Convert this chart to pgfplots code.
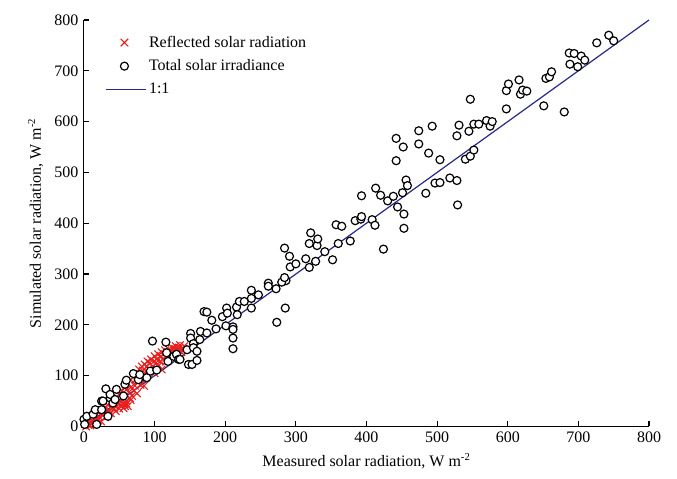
\documentclass[border=0pt]{standalone}
\usepackage{fontspec}
\setmainfont{Liberation Serif}
\usepackage{pgfplots}
\pgfplotsset{compat=1.18}
\definecolor{lineblue}{RGB}{40,40,140}
\definecolor{crossred}{RGB}{230,30,30}
\pgfplotsset{
  marklegend/.style={legend image code/.code={\draw[mark repeat=2,mark phase=2,##1] plot coordinates {(0pt,0pt)(14pt,0pt)(28pt,0pt)};}},
  linelegend/.style={legend image code/.code={\draw[##1] (0pt,0pt) -- (30pt,0pt);}},
}
\begin{document}
\fontsize{12}{14}\selectfont
\begin{tikzpicture}
\begin{axis}[
  scale only axis, width=424pt, height=305pt,
  xmin=0, xmax=800, ymin=0, ymax=800,
  axis x line*=bottom, axis y line*=left,
  tick align=inside, major tick length=4pt,
  xtick={0,100,...,800}, ytick={0,100,...,800},
  /pgf/number format/assume math mode=true,
  tick label style={font=\fontsize{12}{14}\selectfont},
  label style={font=\fontsize{12}{14}\selectfont},
  xlabel={Measured solar radiation, W m\textsuperscript{-2}},
  ylabel={Simulated solar radiation, W m\textsuperscript{-2}},
  axis line style={line width=0.8pt},
  every tick/.style={line width=0.8pt, black},
  clip=false,
  legend style={draw=none, fill=none, at={(0.03,0.975)}, anchor=north west,
    font=\fontsize{12}{14}\selectfont, row sep=3.5pt},
  legend cell align=left,
]
\addplot[only marks, mark=x, mark size=4pt, color=crossred, line width=0.8pt, marklegend] coordinates {
(2,5)(4,12)(6,3)(8,15)(10,8)(12,20)(14,10)(5,20)(16,25)(18,14)(20,28)(22,18)
(25,32)(27,22)(30,38)(32,28)(34,42)(36,30)(38,48)(40,36)(42,52)(44,40)(46,58)
(48,45)(50,62)(52,42)(54,70)(56,55)(58,78)(60,50)(62,85)(64,68)(66,92)(68,60)
(70,98)(72,80)(74,105)(76,88)(78,112)(80,95)(82,118)(84,100)(86,122)(88,108)
(90,128)(92,112)(95,132)(98,118)(100,138)(102,125)(105,142)(108,128)(110,146)
(112,132)(115,150)(118,138)(120,152)(122,140)(125,155)(128,145)(130,158)
(133,150)(136,160)(140,152)(62,40)(56,36)(75,65)(85,80)(45,30)(30,18)(100,105)(110,112)
(3,0)(9,2)(15,5)(20,12)(24,10)(28,30)(33,20)(38,26)(43,35)(48,56)(53,48)(57,44)
(60,72)(65,56)(67,78)(71,70)(73,92)(77,100)(80,82)(83,110)(87,95)(89,118)(93,125)
(96,110)(99,128)(103,132)(106,120)(109,138)(113,142)(116,128)(119,146)(123,148)
(126,136)(129,152)(132,142)(135,155)(138,146)(142,158)(60,45)(66,52)(58,40)(50,35)
};
\addlegendentry{Reflected solar radiation}
\addplot[only marks, mark=*, mark size=3pt, mark options={fill=white, draw=black, line width=0.9pt}, marklegend] coordinates {
(0,14)(1,4)(4,20)(13,24)(16,33)(18,4)(25,33)(25,50)(27,50)(31,74)(34,20)(37,56)
(37,63)(41,46)(44,53)(46,73)(56,60)(58,83)(60,91)(70,104)(77,92)(79,102)(89,96)
(94,109)(97,168)(103,111)(116,166)(117,145)(119,128)(127,138)(131,142)(134,132)
(136,132)(146,151)(148,122)(151,183)(151,174)(153,122)(155,163)(155,155)(160,130)
(160,148)(164,171)(165,187)(170,226)(174,225)(174,184)(181,209)(187,192)(196,216)
(201,198)(202,233)(203,223)(211,196)(211,191)(211,174)(211,153)(216,235)(217,220)
(220,246)(227,246)(237,268)(237,233)(237,252)(247,259)(261,282)(261,276)(272,271)
(273,205)(284,351)(285,233)(286,287)(280,284)(284,293)(291,335)(292,314)(300,320)
(314,330)(319,360)(319,313)(321,381)(328,325)(330,356)(331,369)(341,344)(352,328)
(357,397)(360,360)(365,394)(377,365)(384,405)(392,408)(393,413)(393,454)(408,407)
(412,396)(413,469)(420,455)(424,349)(430,444)(438,453)(442,567)(442,523)(444,432)
(451,460)(452,550)(453,418)(453,390)(456,485)(458,474)(474,582)(474,556)(484,459)
(488,538)(493,591)(497,479)(504,525)(504,480)(518,489)(528,572)(528,484)(529,436)
(531,593)(540,526)(545,581)(547,644)(547,532)(552,544)(552,595)(559,595)(570,602)
(575,591)(578,600)(598,661)(598,625)(601,674)(616,682)(618,654)(621,662)(627,660)
(651,631)(654,685)(659,688)(662,698)(680,619)(687,735)(688,713)(694,734)(699,708)
(704,729)(709,721)(726,755)(743,770)(750,759)
};
\addlegendentry{Total solar irradiance}
\addplot[color=lineblue, line width=0.9pt, no marks, linelegend] coordinates {(0,0)(800,800)};
\addlegendentry{1:1}
\end{axis}
\pgfresetboundingbox
\path (current axis.south west)++(-63pt,-39pt) rectangle ([xshift=21pt,yshift=15pt]current axis.north east);
\end{tikzpicture}
\end{document}
